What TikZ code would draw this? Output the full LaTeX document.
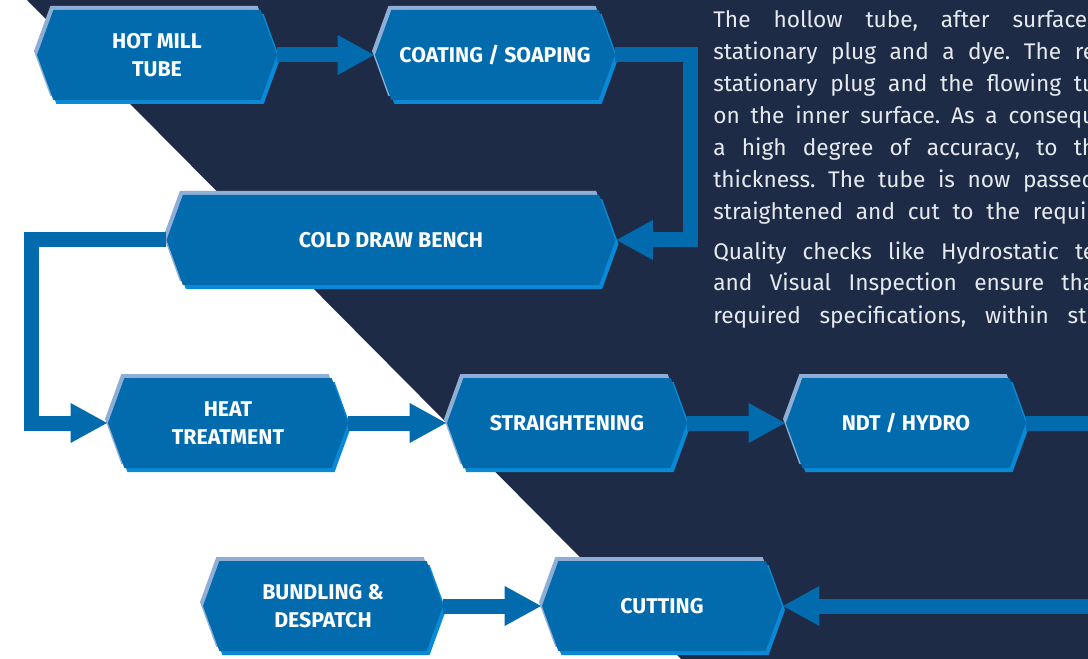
\documentclass[tikz,border=0pt]{standalone}
\usepackage{fontspec}
\setmainfont{Fira Sans}
\usetikzlibrary{shapes.symbols,arrows.meta}
\definecolor{navy}{RGB}{30,43,70}
\definecolor{stepblue}{RGB}{2,107,174}
\definecolor{steplight}{RGB}{142,174,213}
\definecolor{stepbright}{RGB}{10,138,214}
\definecolor{paratext}{RGB}{230,233,238}
\frenchspacing
\begin{document}
\begin{tikzpicture}[x=0.75pt,y=-0.75pt,
    step box/.style={shape=signal, signal to=west and east, signal pointer angle=140,
        minimum width=180pt, minimum height=67.5pt, inner sep=0pt,
        fill=stepblue, text=white, align=center,
        font=\bfseries\fontsize{16}{21}\selectfont,
        preaction={fill=steplight, transform canvas={shift={(-3,-4)}}},
        preaction={fill=stepbright, transform canvas={shift={(3,4)}}}},
    flow/.style={draw=stepblue, line width=11.25pt, line join=miter,
        -{Triangle[length=27.75pt,width=27.75pt]}},
    bar/.style={draw=stepblue, line width=11.25pt},
    para/.style={anchor=base west, inner sep=0pt, text=paratext,
        font=\fontsize{17}{20}\selectfont}]
\useasboundingbox (0,0) rectangle (1088,659);
\clip (0,0) rectangle (1088,659);
\fill[white] (0,0) rectangle (1088,659);
\fill[navy] (27,0) -- (1088,0) -- (1088,659) -- (681,659) -- cycle;

\node[step box] (hot) at (157,55) {HOT MILL\\TUBE};
\node[step box] (coat) at (495,55) {COATING / SOAPING};
\node[step box, minimum width=336.75pt] (cold) at (391,240) {COLD DRAW BENCH};
\node[step box] (heat) at (228,423) {HEAT\\TREATMENT};
\node[step box] (straight) at (567,423) {STRAIGHTENING};
\node[step box] (ndt) at (906,423) {NDT / HYDRO};
\node[step box] (bundle) at (323,606) {BUNDLING \&\\DESPATCH};
\node[step box] (cut) at (662,606) {CUTTING};

\coordinate (ndtout) at (1100,423);
\coordinate (cutin) at (1100,606);

\draw[flow] (hot.east) -- (coat.west);
\draw[flow] (coat.east) -- ++(75,0) |- (cold.east);
\draw[flow] (cold.west) -- ++(-135,0) |- (heat.west);
\draw[flow] (heat.east) -- (straight.west);
\draw[flow] (straight.east) -- (ndt.west);
\draw[bar] (ndt.east) -- (ndtout);
\draw[flow] (cutin) -- (cut.east);
\draw[flow] (bundle.east) -- (cut.west);

\foreach \w/\y/\txt [count=\i] in {
    280.5/28/{The hollow tube, after surface},
    286.5/60/{stationary plug and a dye. The re},
    286.5/92/{stationary plug and the flowing tu},
    286.5/124/{on the inner surface. As a consequ},
    286.5/156/{a high degree of accuracy, to th},
    286.5/188/{thickness. The tube is now passed},
    286.5/220/{straightened and cut to the requir},
    286.5/259/{Quality checks like Hydrostatic te},
    286.5/291/{and Visual Inspection ensure tha},
    286.5/323/{required specifications, within str}}{
    \node[para] (line\i) at (713,\y) {\makebox[\w pt][s]{\txt}};
}
\end{tikzpicture}
\end{document}
